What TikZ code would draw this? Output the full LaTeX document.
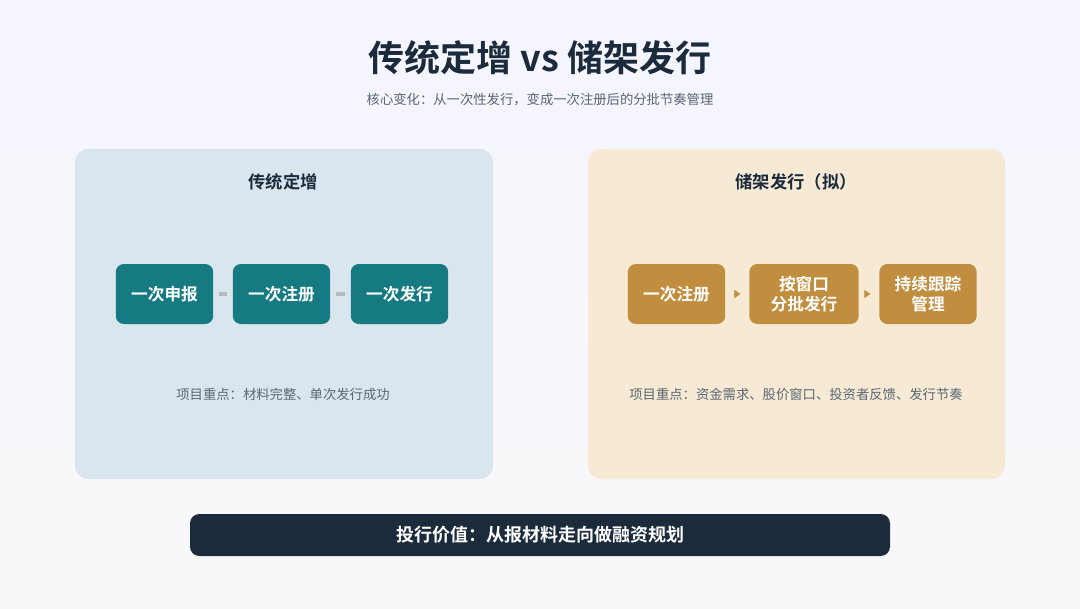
\documentclass[tikz,border=0pt]{standalone}
\usepackage{fontspec}
\setmainfont{Noto Sans CJK SC}[BoldFont={Noto Sans CJK SC Bold}]
\usetikzlibrary{arrows.meta}
\definecolor{tealbox}{HTML}{157A82}
\definecolor{gold}{HTML}{C08E3E}
\definecolor{navy}{HTML}{1B2B3C}
\definecolor{inkgrey}{HTML}{5A6672}
\tikzset{
  panel/.style={rounded corners=10pt, draw=none},
  stage/.style={rounded corners=6pt, text=white, font=\bfseries\fontsize{12.5}{15}\selectfont, align=center, minimum height=45pt},
  note/.style={text=inkgrey, font=\fontsize{10}{14}\selectfont, align=center},
  link/.style={draw=gray!55, line width=3pt, shorten <=4pt, shorten >=4pt},
  flow/.style={-{Triangle[length=4.5pt,width=6pt]}, gold, line width=0.6pt, shorten <=6.5pt, shorten >=6.5pt}
}
\begin{document}
\begin{tikzpicture}[x=0.75pt, y=-0.75pt]
\shade[top color=white!96!blue, bottom color=blue!4!gray!5] (0,0) rectangle (1080,608);
\useasboundingbox (0,0) rectangle (1080,608);

% header
\node (title) at (540,58) {\bfseries\fontsize{27}{32}\selectfont\color{navy}传统定增 vs 储架发行};
\node[note] (sub) at (540,100) {核心变化：从一次性发行，变成一次注册后的分批节奏管理};

% panels
\fill[panel, fill={rgb,255:red,218;green,230;blue,238}] (75,149) rectangle (493,479);
\fill[panel, fill={rgb,255:red,246;green,234;blue,212}] (588,149) rectangle (1005,479);
\node (lhead) at (283,182) {\bfseries\fontsize{13}{16}\selectfont\color{navy}传统定增};
\node (rhead) at (796,182) {\bfseries\fontsize{13}{16}\selectfont\color{navy}储架发行（拟）};

% left flow
\node[stage, fill=tealbox, minimum width=73pt] (apply) at (164.5,294) {一次申报};
\node[stage, fill=tealbox, minimum width=73pt] (reg) at (281.5,294) {一次注册};
\node[stage, fill=tealbox, minimum width=73pt] (issue) at (399.5,294) {一次发行};
\draw[link] (apply) -- (reg);
\draw[link] (reg) -- (issue);
\node[note] (lnote) at (283,394) {项目重点：材料完整、单次发行成功};

% right flow
\node[stage, fill=gold, minimum width=73pt] (once) at (676.5,294) {一次注册};
\node[stage, fill=gold, minimum width=82pt] (window) at (804,294) {按窗口\\分批发行};
\node[stage, fill=gold, minimum width=73pt] (track) at (928,294) {持续跟踪\\管理};
\draw[flow] (once) -- (window);
\draw[flow] (window) -- (track);
\node[note, text width=270pt] (rnote) at (796,394) {项目重点：资金需求、股价窗口、投资者反馈、发行节奏};

% bottom bar
\fill[navy, rounded corners=7pt] (190,514) rectangle (890,556);
\node (value) at (540,535) {\bfseries\fontsize{13.5}{16}\selectfont\color{white}投行价值：从报材料走向做融资规划};
\end{tikzpicture}
\end{document}
